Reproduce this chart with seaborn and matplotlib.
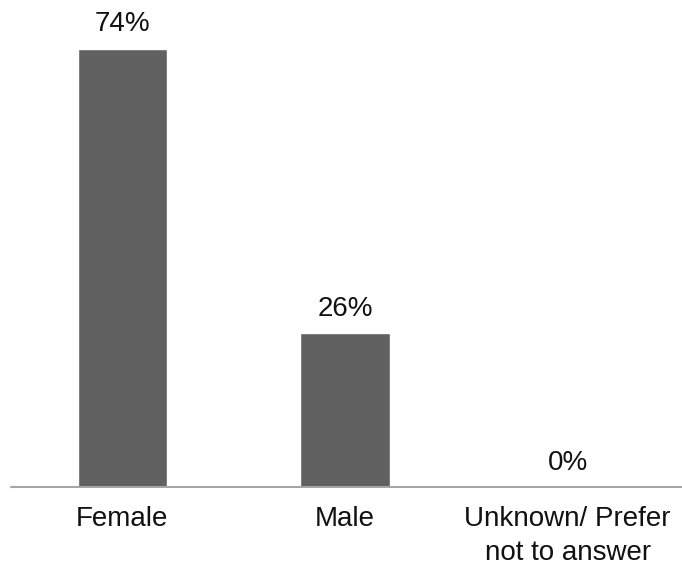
import matplotlib
matplotlib.use("Agg")
import matplotlib.pyplot as plt
import seaborn as sns
import pandas as pd

categories = ["Female", "Male", "Unknown/ Prefer\nnot to answer"]
shares = [74, 26, 0]
value_labels = ["74%", "26%", "0%"]

df = pd.DataFrame({"category": categories, "share": shares})

sns.set_theme(style="white")
plt.rcParams["font.family"] = ["Liberation Sans", "DejaVu Sans"]

fig = plt.figure(figsize=(6.82, 5.70), dpi=100)
ax = fig.add_axes([11 / 682, 83 / 570, 668 / 682, 474 / 570])

sns.barplot(data=df, x="category", y="share", color="#616161",
            saturation=1, width=0.4, ax=ax)

ax.set_ylim(0, 80)
ax.set_xlim(-0.5, 2.5)

for i, (v, lab) in enumerate(zip(shares, value_labels)):
    ax.annotate(lab, xy=(i, v), xytext=(0, 12.3), textcoords="offset points",
                ha="center", va="baseline", fontsize=20, color="#111111")

ax.set_xlabel("")
ax.set_ylabel("")
ax.set_yticks([])
ax.tick_params(axis="x", length=0, pad=14, labelsize=20, colors="#111111")
for lbl in ax.get_xticklabels():
    lbl.set_linespacing(1.4)

for side in ["top", "right", "left"]:
    ax.spines[side].set_visible(False)
ax.spines["bottom"].set_visible(False)
# baseline rule running to the right edge of the figure
ax.plot([0, 1.01], [0, 0], transform=ax.transAxes, color="#a6a6a6",
        linewidth=1.5, clip_on=False, zorder=3)

fig.savefig("out.png", dpi=100)
